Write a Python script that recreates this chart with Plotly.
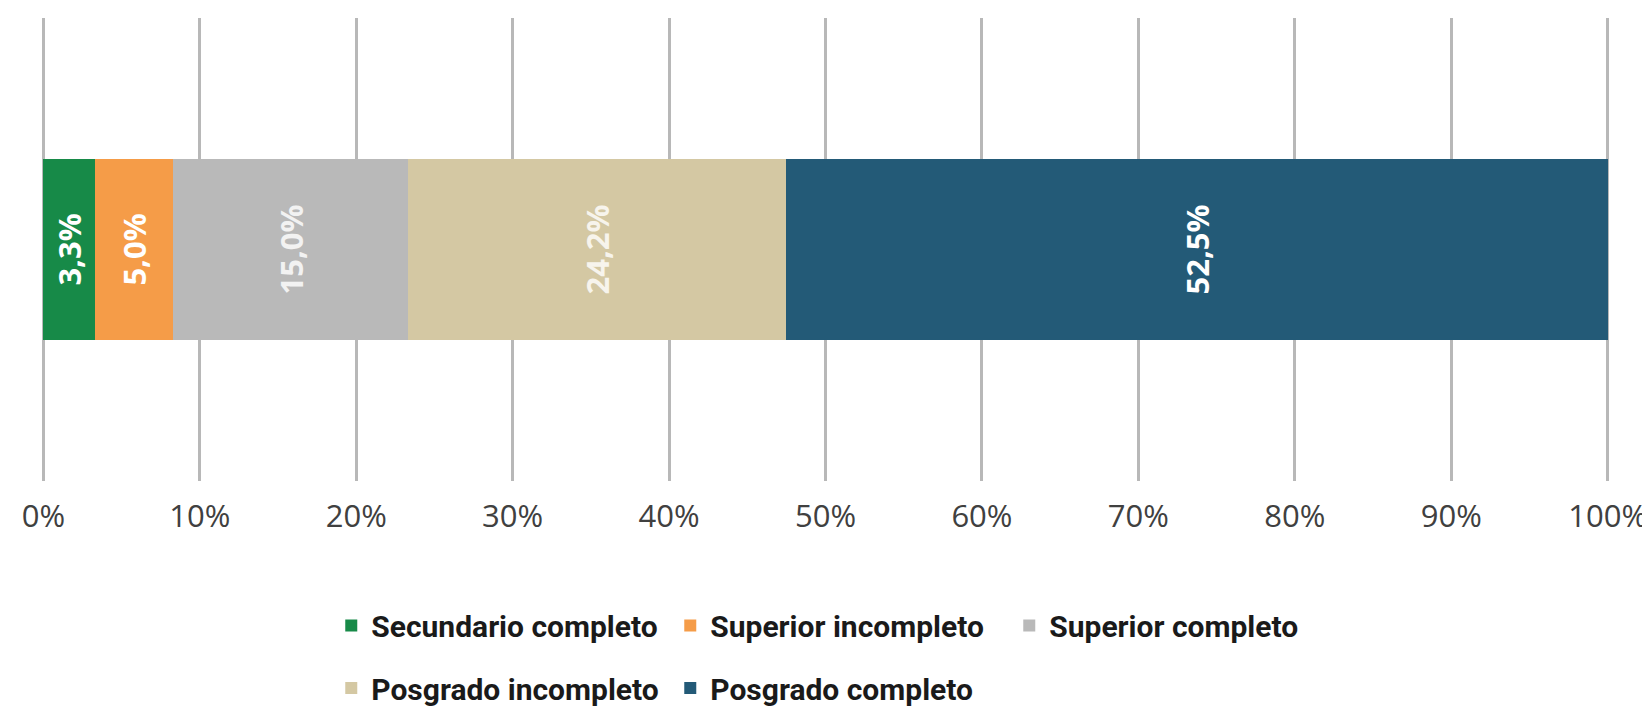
import plotly.graph_objects as go

categories = ["Secundario completo", "Superior incompleto", "Superior completo",
              "Posgrado incompleto", "Posgrado completo"]
values = [3.3, 5.0, 15.0, 24.2, 52.5]
colors = ["#178a48", "#f59c48", "#b9b9b9", "#d4c8a3", "#235a77"]
label_colors = ["#ffffff", "#ffffff", "#f2f2f2", "#f7f4ec", "#ffffff"]
tick_vals = [0, 10, 20, 30, 40, 50, 60, 70, 80, 90, 100]
tick_text = [f"{t}%" for t in tick_vals]
legend_groups = ["legend", "legend", "legend", "legend2", "legend2"]

fig = go.Figure()
for name, v, c, lc, lg in zip(categories, values, colors, label_colors, legend_groups):
    fig.add_trace(go.Bar(
        x=[v], y=[0], orientation="h", name=name,
        marker=dict(color=c, line=dict(width=0)),
        text=[f"{v:.1f}%".replace(".", ",")],
        textposition="inside", insidetextanchor="middle",
        textangle=-90,
        textfont=dict(family="Open Sans", size=31, color=lc, weight="bold"),
        width=0.39,
        legend=lg,
        hoverinfo="skip",
    ))

legend_font = dict(family="Roboto, sans-serif", size=30,
                   color="#1a1a1a", weight="bold")

fig.update_layout(
    barmode="stack",
    width=1650, height=716,
    margin=dict(l=33, r=48, t=10, b=231),
    plot_bgcolor="white", paper_bgcolor="white",
    showlegend=True,
    bargap=0,
    xaxis=dict(range=[-0.15, 100.15], tickvals=tick_vals, ticktext=tick_text,
               showgrid=True, gridcolor="#b8b8b8", gridwidth=3,
               zeroline=False, showline=False, ticks="",
               ticklabelstandoff=14,
               tickfont=dict(family="Open Sans", size=31, color="#404040")),
    yaxis=dict(range=[-0.5, 0.5], showticklabels=False, showgrid=False,
               zeroline=False, showline=False),
    legend=dict(orientation="h", x=0.185, xanchor="left", y=-0.312, yanchor="middle",
                font=legend_font, entrywidth=294, entrywidthmode="pixels",
                itemclick=False, traceorder="normal"),
    legend2=dict(orientation="h", x=0.185, xanchor="left", y=-0.447, yanchor="middle",
                 font=legend_font, entrywidth=294, entrywidthmode="pixels",
                 itemclick=False, traceorder="normal"),
)

fig.write_html("out.html")
